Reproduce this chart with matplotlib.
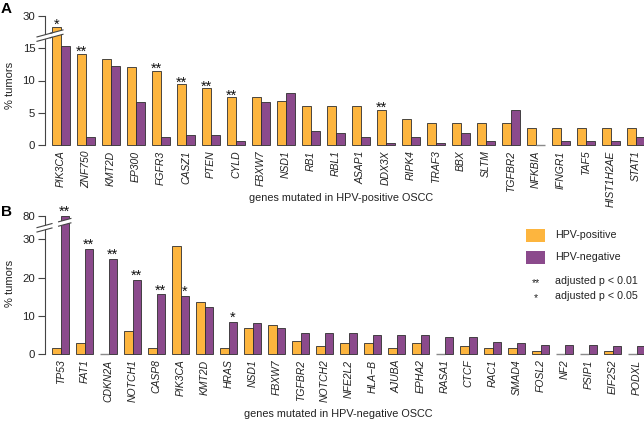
import numpy as np
import matplotlib
matplotlib.use('Agg')
import matplotlib.pyplot as plt
from matplotlib.lines import Line2D
from matplotlib.patches import Polygon, Rectangle
from matplotlib.transforms import IdentityTransform

plt.rcParams['font.family'] = ['Liberation Sans', 'DejaVu Sans']

# ---------------- data ----------------
genes_a = ['PIK3CA', 'ZNF750', 'KMT2D', 'EP300', 'FGFR3', 'CASZ1', 'PTEN', 'CYLD',
           'FBXW7', 'NSD1', 'RB1', 'RBL1', 'ASAP1', 'DDX3X', 'RIPK4', 'TRAF3', 'BBX',
           'SLTM', 'TGFBR2', 'NFKBIA', 'IFNGR1', 'TAF5', 'HIST1H2AE', 'STAT1']
pos_a = [28.3, 14.1, 13.4, 12.1, 11.5, 9.4, 8.8, 7.4, 7.4, 6.8, 6.1, 6.0, 6.0, 5.4,
         4.1, 3.4, 3.4, 3.4, 3.4, 2.7, 2.7, 2.7, 2.7, 2.7]
neg_a = [15.3, 1.2, 12.3, 6.6, 1.2, 1.5, 1.5, 0.6, 6.6, 8.1, 2.1, 1.8, 1.2, 0.3,
         1.2, 0.3, 1.8, 0.6, 5.4, 0.0, 0.6, 0.6, 0.6, 1.2]
sig_a = ['*', '**', '', '', '**', '**', '**', '**', '', '', '', '', '', '**',
         '', '', '', '', '', '', '', '', '', '']

genes_b = ['TP53', 'FAT1', 'CDKN2A', 'NOTCH1', 'CASP8', 'PIK3CA', 'KMT2D', 'HRAS',
           'NSD1', 'FBXW7', 'TGFBR2', 'NOTCH2', 'NFE2L2', 'HLA\u2212B', 'AJUBA', 'EPHA2',
           'RASA1', 'CTCF', 'RAC1', 'SMAD4', 'FOSL2', 'NF2', 'PSIP1', 'EIF2S2', 'PODXL']
pos_b = [1.5, 2.8, 0.0, 6.1, 1.5, 28.3, 13.5, 1.5, 6.8, 7.5, 3.5, 2.2, 2.8, 2.8,
         1.5, 2.8, 0.0, 2.2, 1.5, 1.5, 0.7, 0.0, 0.0, 0.7, 0.0]
neg_b = [80.0, 27.4, 24.9, 19.3, 15.6, 15.3, 12.4, 8.5, 8.2, 6.8, 5.5, 5.5, 5.5, 5.1,
         5.1, 5.1, 4.4, 4.4, 3.1, 2.8, 2.4, 2.4, 2.4, 2.2, 2.2]
sig_b = ['**', '**', '**', '**', '**', '*', '', '*', '', '', '', '', '', '', '', '',
         '', '', '', '', '', '', '', '', '']

yticks_a = [0, 5, 10, 15, 30]
yticks_b = [0, 10, 20, 30, 80]

C_POS = '#FDB53E'
C_NEG = '#8B4A8C'
EDGE = '#2e2e2e'
AXC = '#444444'

W, H = 644, 421
fig = plt.figure(figsize=(W / 100, H / 100), dpi=100)


def add_ax(x0, y0, x1, y1):
    return fig.add_axes([x0 / W, 1 - y1 / H, (x1 - x0) / W, (y1 - y0) / H])


def make_scale(brk_lo, brk_hi, squeeze):
    xp = np.array([-1000.0, brk_lo, brk_hi, 5000.0])
    fp = np.array([-1000.0, brk_lo, brk_lo + squeeze, brk_lo + squeeze + (5000.0 - brk_hi)])
    fwd = lambda v: np.interp(v, xp, fp)
    inv = lambda v: np.interp(v, fp, xp)
    return fwd, inv


def panel(ax, genes, pos, neg, sig, yticks, ymax, brk, brk_mid, own, pitch_w,
          xl, xr, star_pad):
    fwd, inv = make_scale(brk[0], brk[1], brk[2])
    ax.set_yscale('function', functions=(fwd, inv))
    x = np.arange(len(genes))
    bw = pitch_w
    bp = ax.bar(x - bw / 2, pos, width=bw, color=C_POS, edgecolor=EDGE, linewidth=0.6,
                clip_on=False)
    bn = ax.bar(x + bw / 2, neg, width=bw, color=C_NEG, edgecolor=EDGE, linewidth=0.6,
                clip_on=False)
    for bars, vals in ((bp, pos), (bn, neg)):
        for i, v in enumerate(vals):
            if v == 0:
                bars[i].set_edgecolor('#8a8a8a')
                bars[i].set_linewidth(1.0)
    ax.set_xlim(xl, xr)
    ax.set_ylim(0, ymax)
    ax.set_yticks(yticks)
    ax.set_yticklabels([str(t) for t in yticks], fontsize=8.2, color='#222222')
    ax.yaxis.set_minor_locator(matplotlib.ticker.NullLocator())
    ax.set_xticks(x)
    ax.set_xticklabels(genes, rotation=90, style='italic', fontsize=7.5, color='#222222')
    ax.tick_params(axis='x', length=0, pad=4)
    ax.tick_params(axis='y', length=5, width=0.8, color=AXC, pad=2, direction='out')
    for s in ['top', 'right', 'bottom']:
        ax.spines[s].set_visible(False)
    ax.spines['left'].set_bounds(0, ymax)
    ax.spines['left'].set_color(AXC)
    ax.spines['left'].set_linewidth(0.8)
    ax.patch.set_alpha(0)
    # significance stars
    ref = pos if own == 'pos' else neg
    off = -bw / 2 if own == 'pos' else bw / 2
    for i, s in enumerate(sig):
        if s:
            ax.annotate(s, xy=(x[i] + off, ref[i]), xytext=(0, star_pad),
                        textcoords='offset points', ha='center', va='baseline',
                        fontsize=10.5, color='#111111', annotation_clip=False)
    # break marks
    big = int(np.argmax(ref))
    xs_spine = ax.transData.transform((xl, brk_mid))
    bar_l = ax.transData.transform((x[big] + off - bw / 2, brk_mid))[0]
    bar_r = ax.transData.transform((x[big] + off + bw / 2, brk_mid))[0]
    yb = xs_spine[1]
    sx = xs_spine[0]
    slope = 0.27
    gap = 2.2
    for (a, b) in [(sx - 8, sx + 7), (bar_l - 2, bar_r + 2)]:
        ya = yb + slope * (a - sx)
        yb2 = yb + slope * (b - sx)
        poly = Polygon([(a, ya - gap), (b, yb2 - gap), (b, yb2 + gap), (a, ya + gap)],
                       closed=True, facecolor='white', edgecolor='none',
                       transform=IdentityTransform(), zorder=10)
        fig.add_artist(poly)
        for d in (-gap, gap):
            ln = Line2D([a, b], [ya + d, yb2 + d], color=AXC, linewidth=0.8,
                        transform=IdentityTransform(), zorder=11)
            fig.add_artist(ln)


axA = add_ax(45, 16, 644, 145)
panel(axA, genes_a, pos_a, neg_a, sig_a, yticks_a, 30, (16.5, 27.0, 0.5), 21.75,
      'pos', 0.348, -0.64, 23.32, -1.5)

axB = add_ax(45, 216, 644, 354)
panel(axB, genes_b, pos_b, neg_b, sig_b, yticks_b, 80, (33.0, 77.0, 0.1), 55.0,
      'neg', 0.346, -0.65, 24.31, 0.0)

# axis titles
fig.text(341 / W, 1 - 198 / H, 'genes mutated in HPV-positive OSCC', ha='center',
         va='center', fontsize=7.85, color='#222222')
fig.text(338 / W, 1 - 414 / H, 'genes mutated in HPV-negative OSCC', ha='center',
         va='center', fontsize=7.85, color='#222222')
fig.text(10 / W, 1 - 85 / H, '% tumors', rotation=90, ha='center', va='center',
         fontsize=8, color='#222222')
fig.text(10 / W, 1 - 283 / H, '% tumors', rotation=90, ha='center', va='center',
         fontsize=8, color='#222222')
fig.text(1 / W, 1 - 9 / H, 'A', fontsize=11, fontweight='bold', ha='left', va='center')
fig.text(1 / W, 1 - 212 / H, 'B', fontsize=11, fontweight='bold', ha='left', va='center')

# legend
for (yt, col, lab) in [(229, C_POS, 'HPV-positive'), (251, C_NEG, 'HPV-negative')]:
    fig.add_artist(Rectangle((526 / W, 1 - (yt + 13) / H), 19 / W, 13 / H,
                             facecolor=col, edgecolor='none', transform=fig.transFigure))
    fig.text(555 / W, 1 - (yt + 6.5) / H, lab, ha='left', va='center', fontsize=7.7,
             color='#222222')
for (yc, s, lab) in [(281, '**', 'adjusted p < 0.01'), (296, '*', 'adjusted p < 0.05')]:
    fig.text(536 / W, 1 - (yc + 2) / H, s, ha='center', va='center', fontsize=7.5,
             color='#222222')
    fig.text(555 / W, 1 - yc / H, lab, ha='left', va='center', fontsize=7.7,
             color='#222222')

fig.savefig('out.png', dpi=100)
